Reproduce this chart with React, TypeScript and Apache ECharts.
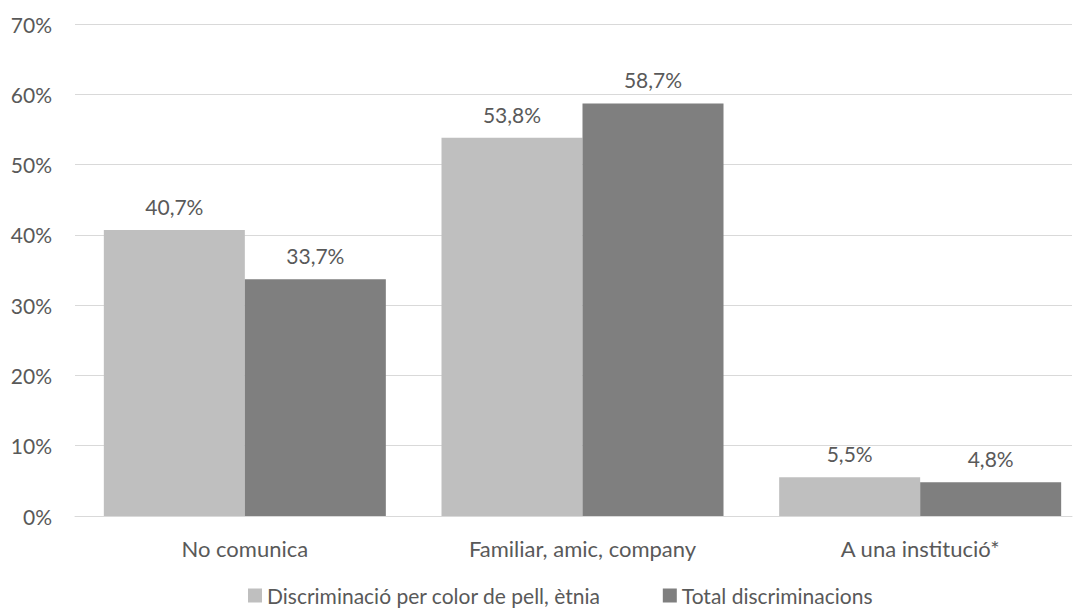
import React, { useEffect, useRef } from "react";
import * as echarts from "echarts";

const categories = ["No comunica", "Familiar, amic, company", "A una institució*"];
const seriesNames = ["Discriminació per color de pell, ètnia", "Total discriminacions"];
const colorPell = [40.7, 53.8, 5.5];
const totalDisc = [33.7, 58.7, 4.8];
const colors = ["#BFBFBF", "#7F7F7F"];

const FONT = "Lato";
const TXT = "#595959";
const FS = 21;

export default function App() {
  const ref = useRef<HTMLDivElement>(null);
  useEffect(() => {
    if (!ref.current) return;
    const chart = echarts.init(ref.current, undefined, { renderer: "svg" });
    const fmt = (p: any) => p.value.toFixed(1).replace(".", ",") + "%";
    const lbl = { show: true, position: "top", distance: 13, color: TXT, fontSize: FS, fontFamily: FONT, formatter: fmt };
    chart.setOption({
      animation: false,
      backgroundColor: "#ffffff",
      textStyle: { fontFamily: FONT },
      grid: [
        { left: 76, right: -10, top: 24, bottom: 96, containLabel: false },
        { left: 75, right: 17, top: 24, bottom: 96, containLabel: false },
      ],
      legend: {
        top: 580,
        left: 243,
        itemWidth: 14,
        itemHeight: 14,
        itemGap: 62,
        icon: "rect",
        textStyle: { color: TXT, fontSize: FS, fontFamily: FONT },
        data: seriesNames,
      },
      xAxis: [
        {
          type: "category",
          gridIndex: 0,
          data: categories,
          axisLine: { show: false },
          axisTick: { show: false },
          axisLabel: { color: TXT, fontSize: 22, fontFamily: FONT, margin: 21 },
        },
        {
          type: "category",
          gridIndex: 1,
          data: [""],
          axisLine: { show: true, lineStyle: { color: "#D9D9D9", width: 1 } },
          axisTick: { show: false },
          axisLabel: { show: false },
        },
      ],
      yAxis: [
        {
          type: "value",
          gridIndex: 0,
          min: 0,
          max: 70,
          interval: 10,
          axisLine: { show: false },
          axisTick: { show: false },
          splitLine: { show: false },
          axisLabel: { show: false },
        },
        {
          type: "value",
          gridIndex: 1,
          min: 0,
          max: 70,
          interval: 10,
          axisLine: { show: false },
          axisTick: { show: false },
          splitLine: { lineStyle: { color: "#D9D9D9", width: 1 } },
          axisLabel: { color: TXT, fontSize: FS, fontFamily: FONT, margin: 23, formatter: "{value}%" },
        },
      ],
      series: [
        {
          name: seriesNames[0],
          type: "bar",
          xAxisIndex: 0,
          yAxisIndex: 0,
          data: colorPell,
          barWidth: 141,
          barGap: "0%",
          z: 3,
          itemStyle: { color: colors[0] },
          label: lbl,
        },
        {
          name: seriesNames[1],
          type: "bar",
          xAxisIndex: 0,
          yAxisIndex: 0,
          data: totalDisc,
          barWidth: 141,
          barGap: "0%",
          z: 3,
          itemStyle: { color: colors[1] },
          label: lbl,
        },
      ],
    });
    return () => chart.dispose();
  }, []);
  return <div ref={ref} style={{ position: "fixed", left: 0, top: 0, width: 1089, height: 612 }} />;
}
